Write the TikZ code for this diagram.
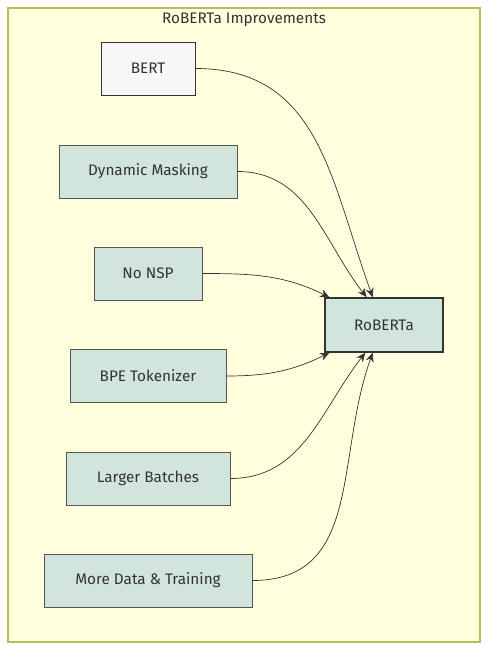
\documentclass[tikz,border=0pt]{standalone}
\usepackage{fontspec}
\setmainfont{Fira Sans}
\usetikzlibrary{arrows.meta}

\definecolor{fondo}{HTML}{FFFFDE}
\definecolor{marco}{HTML}{BDBD55}
\definecolor{caja}{HTML}{D2E5DC}
\definecolor{borde}{HTML}{555555}
\definecolor{linea}{HTML}{333333}

\tikzset{
    mejora/.style={draw=borde, fill=caja, line width=0.9pt, minimum height=53pt,
        inner xsep=0pt, font=\fontsize{15.3}{17}\selectfont, text=linea},
    flecha/.style={draw=linea, line width=0.7pt, -{Stealth[length=9pt,width=8pt]}}
}

\begin{document}
\begin{tikzpicture}[x=1pt, y=-1pt]
        % Paso 1: Fija el lienzo y el marco del subgrafo
        \useasboundingbox (0,0) rectangle (496,660);
        \draw[fill=fondo, draw=marco, line width=1.2pt] (8,8) rectangle (480,642);
        \node[font=\fontsize{15.3}{17}\selectfont, text=linea] (titulo) at (244,19.5) {RoBERTa Improvements};

        % Paso 2: Define las cajas de las mejoras
        \node[mejora, fill=white!97!black, draw=linea, minimum width=94pt] (bert) at (148,68.5) {BERT};
        \node[mejora, minimum width=178pt] (masking) at (148,171.5) {Dynamic Masking};
        \node[mejora, minimum width=108pt] (nsp) at (148,273.5) {No NSP};
        \node[mejora, minimum width=156pt] (bpe) at (148,376) {BPE Tokenizer};
        \node[mejora, minimum width=164pt] (batches) at (148,478.5) {Larger Batches};
        \node[mejora, minimum width=208pt] (datos) at (148,580.5) {More Data \& Training};

        % Paso 3: Caja del modelo final
        \node[mejora, draw=linea, line width=1.8pt, minimum width=118pt, minimum height=54pt] (roberta) at (384,325) {RoBERTa};

        % Paso 4: Dibuja las flechas curvas
        \draw[flecha] (bert.east) to[out=0, in=110, looseness=1.1] (roberta.112);
        \draw[flecha] (masking.east) to[out=0, in=128] (roberta.122);
        \draw[flecha] (nsp.east) to[out=0, in=154] (roberta.153);
        \draw[flecha] (bpe.east) to[out=0, in=206] (roberta.207);
        \draw[flecha] (batches.east) to[out=0, in=232] (roberta.236);
        \draw[flecha] (datos.east) to[out=0, in=250, looseness=1.1] (roberta.248);
    \end{tikzpicture}
\end{document}
